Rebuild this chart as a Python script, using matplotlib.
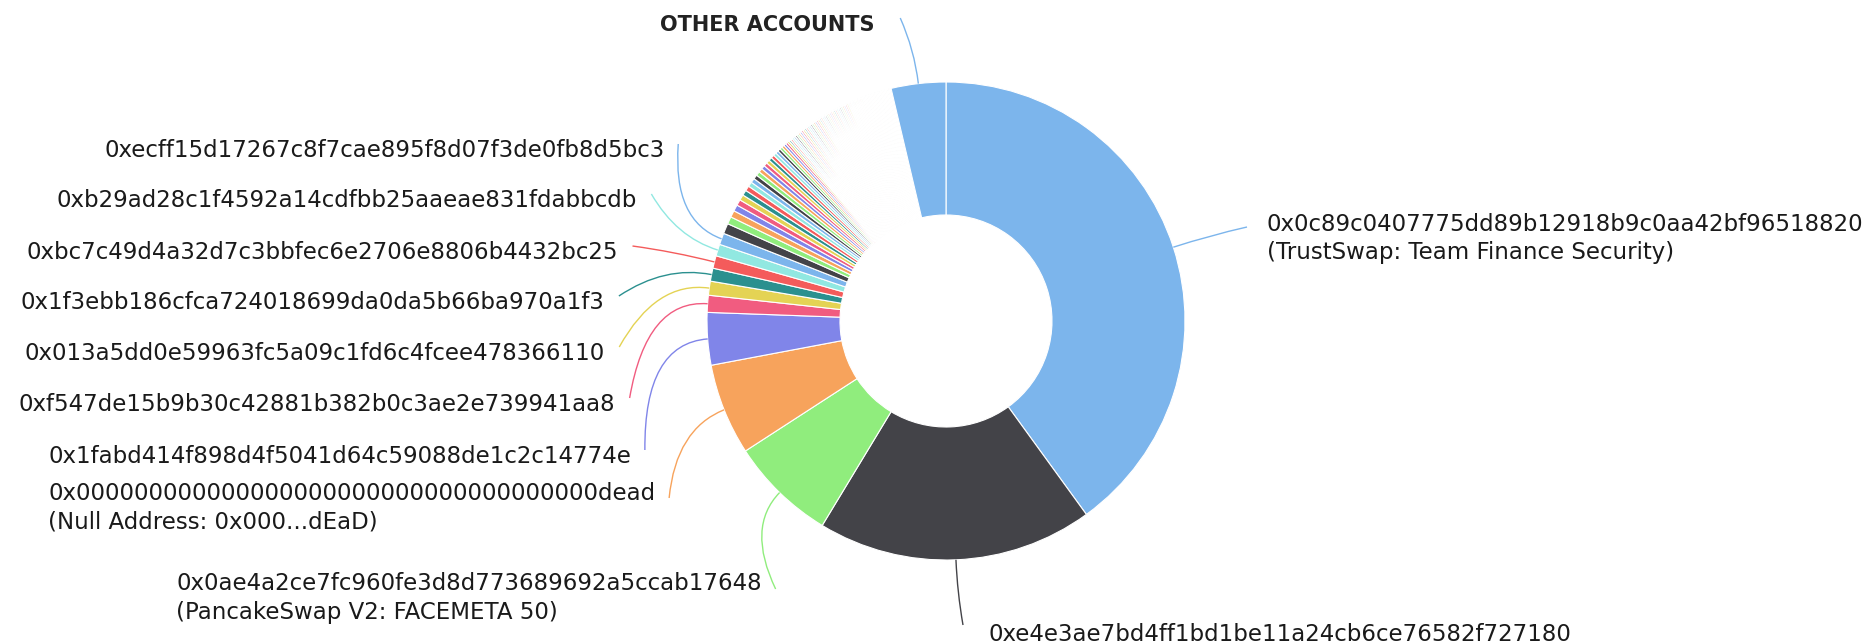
# %% IMPORT STATEMENTS
import numpy as np
import matplotlib
matplotlib.use('Agg')
import matplotlib.pyplot as plt
from matplotlib.path import Path
from matplotlib.patches import PathPatch

# %% DATA
# labelled top holders, share of supply in %
holders = [
    '0x0c89c0407775dd89b12918b9c0aa42bf96518820\n(TrustSwap: Team Finance Security)',
    '0xe4e3ae7bd4ff1bd1be11a24cb6ce76582f727180',
    '0x0ae4a2ce7fc960fe3d8d773689692a5ccab17648\n(PancakeSwap V2: FACEMETA 50)',
    '0x000000000000000000000000000000000000dead\n(Null Address: 0x000...dEaD)',
    '0x1fabd414f898d4f5041d64c59088de1c2c14774e',
    '0xf547de15b9b30c42881b382b0c3ae2e739941aa8',
    '0x013a5dd0e59963fc5a09c1fd6c4fcee478366110',
    '0x1f3ebb186cfca724018699da0da5b66ba970a1f3',
    '0xbc7c49d4a32d7c3bbfec6e2706e8806b4432bc25',
    '0xb29ad28c1f4592a14cdfbb25aaeae831fdabbcdb',
    '0xecff15d17267c8f7cae895f8d07f3de0fb8d5bc3',
]
holder_shares = [40.1, 18.7, 7.2, 6.2, 3.55, 1.15, 0.95, 0.88, 0.85, 0.80, 0.78]

# smaller holders without a label
minor_shares = [0.70, 0.50, 0.46, 0.43, 0.40, 0.38, 0.36, 0.34, 0.32, 0.30,
                0.29, 0.28, 0.27, 0.26, 0.25, 0.24, 0.23, 0.22, 0.21, 0.20,
                0.19, 0.18, 0.17, 0.16, 0.15, 0.14]

# long tail of tiny holders
tail_shares = [0.13, 0.13, 0.13, 0.13, 0.13, 0.13, 0.13, 0.13, 0.13, 0.13,
               0.12, 0.12, 0.12, 0.12, 0.12, 0.12, 0.12, 0.12, 0.12, 0.12,
               0.11, 0.11, 0.11, 0.11, 0.11, 0.11, 0.11, 0.11, 0.11, 0.11,
               0.11, 0.11, 0.11, 0.11, 0.11, 0.11, 0.11, 0.11, 0.11, 0.11,
               0.10, 0.10, 0.10, 0.10, 0.10, 0.10, 0.10, 0.10, 0.10, 0.10,
               0.09, 0.09, 0.09, 0.09, 0.09, 0.09, 0.09, 0.09, 0.09, 0.09,
               0.09, 0.09, 0.09, 0.09, 0.09, 0.09, 0.09, 0.09, 0.09, 0.09,
               0.08, 0.08, 0.08]

other_label = 'OTHER ACCOUNTS'
other_share = 3.7

palette = ['#7cb5ec', '#434348', '#90ed7d', '#f7a35c', '#8085e9',
           '#f15c80', '#e4d354', '#2b908f', '#f45b5b', '#91e8e1']

# %% LAYOUT (pixel positions, origin top-left)
W, H = 1875, 644
CENTER = (946, 321)
RADIUS = 239
RING = 133
FONT = 16.5

# (x, y of first line, side of the chart)
label_pos = [
    (1267, 233, 'right'),
    (988, 632, 'bottom'),
    (176, 593, 'left'),
    (48, 502, 'left'),
    (48, 454, 'left'),
    (19, 402, 'left'),
    (25, 351, 'left'),
    (21, 300, 'left'),
    (27, 250, 'left'),
    (57, 198, 'left'),
    (104, 148, 'left'),
]
other_pos = (767, 23)


def connector(axes, start, end, radial, colour):
    """Curved connector from the slice edge to the label"""
    dist = np.hypot(end[0] - start[0], end[1] - start[1])
    ctrl = (start[0] + radial[0] * 0.5 * dist, start[1] + radial[1] * 0.5 * dist)
    path = Path([start, ctrl, end], [Path.MOVETO, Path.CURVE3, Path.CURVE3])
    axes.add_patch(PathPatch(path, facecolor='none', edgecolor=colour, lw=1.0))


def main():
    shares = holder_shares + minor_shares + tail_shares + [other_share]
    colours = [palette[i % len(palette)] for i in range(len(shares))]

    fig = plt.figure(figsize=(W / 100, H / 100), dpi=100)
    ax = fig.add_axes([0, 0, 1, 1])

    # y axis runs downwards, so start at -90 and go counterclockwise in data
    wedges, _ = ax.pie(shares, colors=colours, startangle=-90, counterclock=True,
                       center=CENTER, radius=RADIUS,
                       wedgeprops=dict(width=RING, edgecolor='white', linewidth=0.8))
    ax.set_xlim(0, W)
    ax.set_ylim(H, 0)
    ax.set_aspect('equal')
    ax.axis('off')

    # the tiny tail slices are mostly covered by their white borders
    n_head = len(holder_shares) + len(minor_shares)
    for w in wedges[n_head:n_head + len(tail_shares)]:
        w.set_linewidth(1.05)

    # labels
    texts = []
    for name, (x, y, side) in zip(holders, label_pos):
        t = ax.text(x, y, name, fontsize=FONT, family='DejaVu Sans', color='#1a1a1a',
                    ha='left', va='center_baseline', linespacing=1.32)
        texts.append(t)
    ot = ax.text(other_pos[0], other_pos[1], other_label, fontsize=15, fontweight='bold',
                 family='DejaVu Sans', color='#222222', ha='center', va='center_baseline')

    fig.canvas.draw()
    inv = ax.transData.inverted()

    def slice_point(wedge):
        mid = np.deg2rad((wedge.theta1 + wedge.theta2) / 2)
        u = (np.cos(mid), np.sin(mid))
        return (CENTER[0] + RADIUS * u[0], CENTER[1] + RADIUS * u[1]), u

    for i, (t, (x, y, side)) in enumerate(zip(texts, label_pos)):
        bb = t.get_window_extent()
        (x0, _), (x1, _) = inv.transform([[bb.x0, bb.y0], [bb.x1, bb.y1]])
        if side == 'left':
            # first line is the longest one, so the box edge is its end
            end = (x1 + 14, y - 4)
        elif side == 'right':
            end = (x0 - 20, y - 6)
        else:
            end = (x0 - 25, y - 7)
        start, u = slice_point(wedges[i])
        connector(ax, start, end, u, colours[i])

    bb = ot.get_window_extent()
    (ox0, _), (ox1, _) = inv.transform([[bb.x0, bb.y0], [bb.x1, bb.y1]])
    start, u = slice_point(wedges[-1])
    connector(ax, start, (ox1 + 26, other_pos[1] - 5), u, colours[-1])

    fig.savefig('out.png', dpi=100, facecolor='white')
    return 0


# %% MAIN EXECUTION
if __name__ == "__main__":
    main()
